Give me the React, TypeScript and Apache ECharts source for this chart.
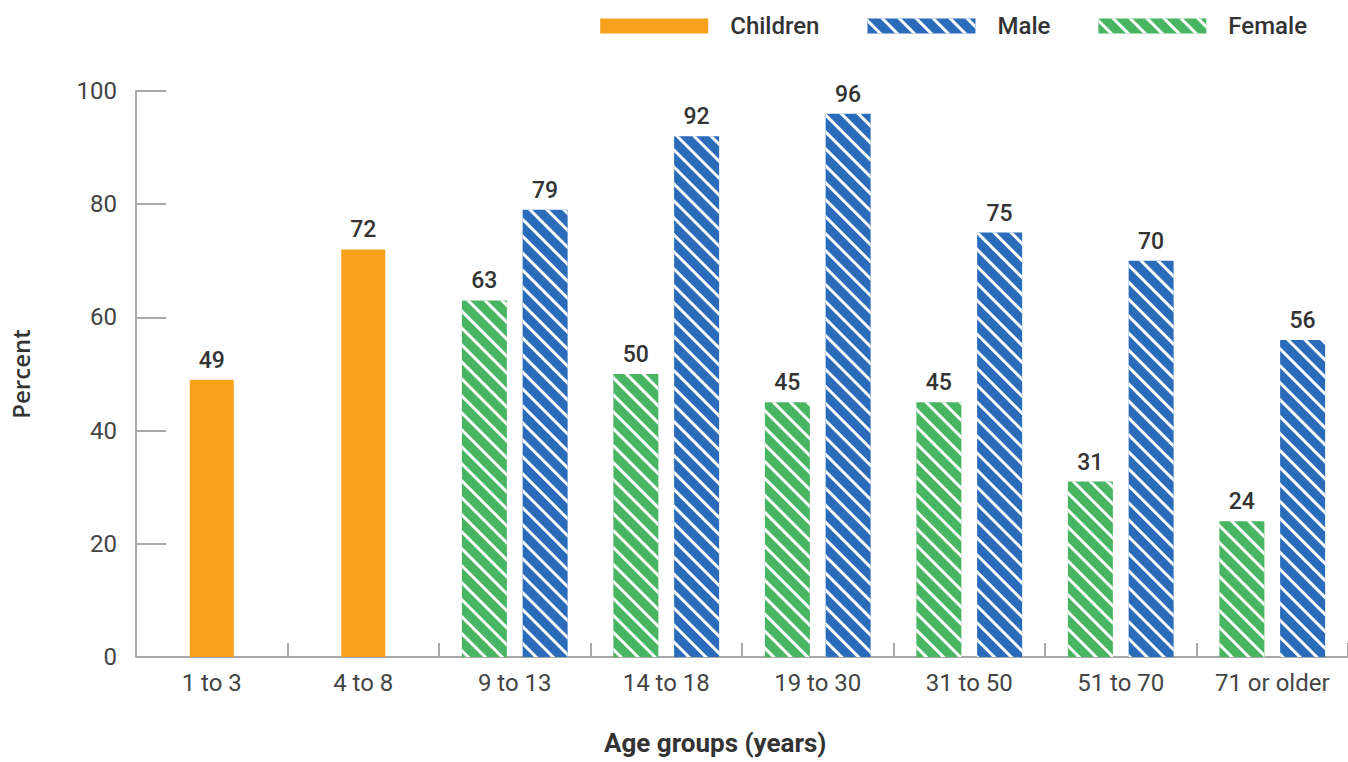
import React, { useEffect, useRef } from "react";
import * as echarts from "echarts";

const categories = ["1 to 3", "4 to 8", "9 to 13", "14 to 18", "19 to 30", "31 to 50", "51 to 70", "71 or older"];
const childrenValues = [49, 72, "-", "-", "-", "-", "-", "-"];
const maleValues = ["-", "-", 79, 92, 96, 75, 70, 56];
const femaleValues = ["-", "-", 63, 50, 45, 45, 31, 24];
const yTicks = { min: 0, max: 100, interval: 20 };

const ORANGE = "#F8A11C";
const BLUE = "#2A6BBA";
const GREEN = "#48B563";
const TEXT = "#333";
const AXIS = "#A8A8A8";
const FONT = "Roboto, sans-serif";

const stripe = (dashY: number[]) => ({
  symbol: "rect",
  symbolSize: 1,
  color: "#ffffff",
  dashArrayX: [1, 0],
  dashArrayY: dashY,
  rotation: Math.PI / 4,
});

export default function App() {
  const ref = useRef<HTMLDivElement>(null);
  useEffect(() => {
    if (!ref.current) return;
    const chart = echarts.init(ref.current, null, { renderer: "svg" });
    const label = {
      show: true,
      position: "top",
      distance: 8,
      color: TEXT,
      fontFamily: FONT,
      fontSize: 23,
      fontWeight: 500,
    };
    chart.setOption({
      animation: false,
      backgroundColor: "#fff",
      legend: {
        data: ["Children", "Male", "Female"],
        icon: "rect",
        top: 9,
        right: 36,
        itemWidth: 108,
        itemHeight: 15,
        itemGap: 48,
        textStyle: { color: TEXT, fontFamily: FONT, fontSize: 24, fontWeight: 500, padding: [0, 0, 0, 17] },
      },
      grid: { left: 134, right: -4, top: 91, bottom: 105, containLabel: false },
      xAxis: [
        {
          type: "category",
          data: categories,
          axisLine: { lineStyle: { color: AXIS, width: 2 } },
          axisTick: { show: true, inside: true, interval: 0, length: 14, lineStyle: { color: AXIS, width: 2 } },
          axisLabel: { color: "#444", fontFamily: FONT, fontSize: 24, margin: 14, interval: 0 },
        },
        {
          type: "category",
          data: categories,
          show: false,
        },
      ],
      yAxis: {
        type: "value",
        min: yTicks.min,
        max: yTicks.max,
        interval: yTicks.interval,
        name: "Percent",
        nameLocation: "middle",
        nameGap: 104,
        nameTextStyle: { color: TEXT, fontFamily: "'Open Sans', sans-serif", fontSize: 24, fontWeight: 600 },
        axisLine: { show: true, lineStyle: { color: AXIS, width: 2 } },
        axisTick: { show: true, inside: true, length: 30, lineStyle: { color: AXIS, width: 2 } },
        axisLabel: { color: "#444", fontFamily: FONT, fontSize: 24, margin: 19 },
        splitLine: { show: false },
      },
      graphic: [
        {
          type: "text",
          left: 604,
          top: 730,
          style: {
            text: "Age groups (years)",
            fill: TEXT,
            font: "bold 26px Roboto, sans-serif",
          },
        },
      ],
      series: [
        {
          name: "Children",
          type: "bar",
          xAxisIndex: 1,
          data: childrenValues,
          barWidth: 44,
          itemStyle: { color: ORANGE },
          label,
        },
        {
          name: "Female",
          type: "bar",
          xAxisIndex: 0,
          data: femaleValues,
          barWidth: 45,
          barGap: "35%",
          itemStyle: { color: GREEN, decal: stripe([2.5, 9]) },
          label,
        },
        {
          name: "Male",
          type: "bar",
          xAxisIndex: 0,
          data: maleValues,
          barWidth: 45,
          barGap: "35%",
          itemStyle: { color: BLUE, decal: stripe([3, 8.5]) },
          label,
        },
      ],
    });
    return () => chart.dispose();
  }, []);
  return <div ref={ref} style={{ position: "fixed", left: 0, top: 0, width: 1348, height: 762 }} />;
}
